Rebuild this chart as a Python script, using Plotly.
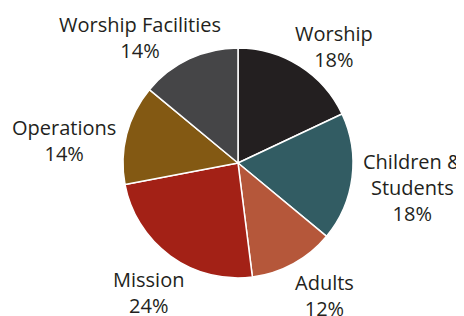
import math
import plotly.graph_objects as go

categories = ["Worship", "Children &<br>Students", "Adults", "Mission", "Operations", "Worship Facilities"]
values = [18, 18, 12, 24, 14, 14]
colors = ["#231f20", "#325c63", "#b5573a", "#a32116", "#835913", "#454547"]

W, H = 456, 308
cx, cy, R = 230, 155, 115
ax_r, ay_r, label_dy = 180, 148, 8  # label ellipse radii and vertical shift (px)
label_nudge = [(0, 0), (-4, -2), (0, -5), (16, 2), (0, 6), (-21, 0)]  # hand-placed label tweaks (px)

fig = go.Figure(go.Pie(
    labels=categories,
    values=values,
    sort=False,
    direction="clockwise",
    rotation=0,
    marker=dict(colors=colors, line=dict(color="white", width=1.5)),
    textinfo="none",
    hoverinfo="label+percent",
    domain=dict(x=[(cx - R) / W, (cx + R) / W], y=[1 - (cy + R) / H, 1 - (cy - R) / H]),
    automargin=False,
))

total = sum(values)
cum = 0
for (lab, v), (nx, ny) in zip(zip(categories, values), label_nudge):
    mid = (cum + v / 2) / total * 2 * math.pi
    cum += v
    px = cx + ax_r * math.sin(mid) + nx
    py = cy + label_dy - ay_r * math.cos(mid) + ny
    fig.add_annotation(
        x=px / W, y=1 - py / H, xref="paper", yref="paper",
        text=f"{lab}<br>{v}%", showarrow=False,
        xanchor="center", yanchor="middle", align="center",
        font=dict(family="Open Sans", size=20, color="#231f20"),
    )

fig.update_layout(
    width=W, height=H,
    margin=dict(l=0, r=0, t=0, b=0),
    paper_bgcolor="white",
    showlegend=False,
)
fig.write_html("out.html")
